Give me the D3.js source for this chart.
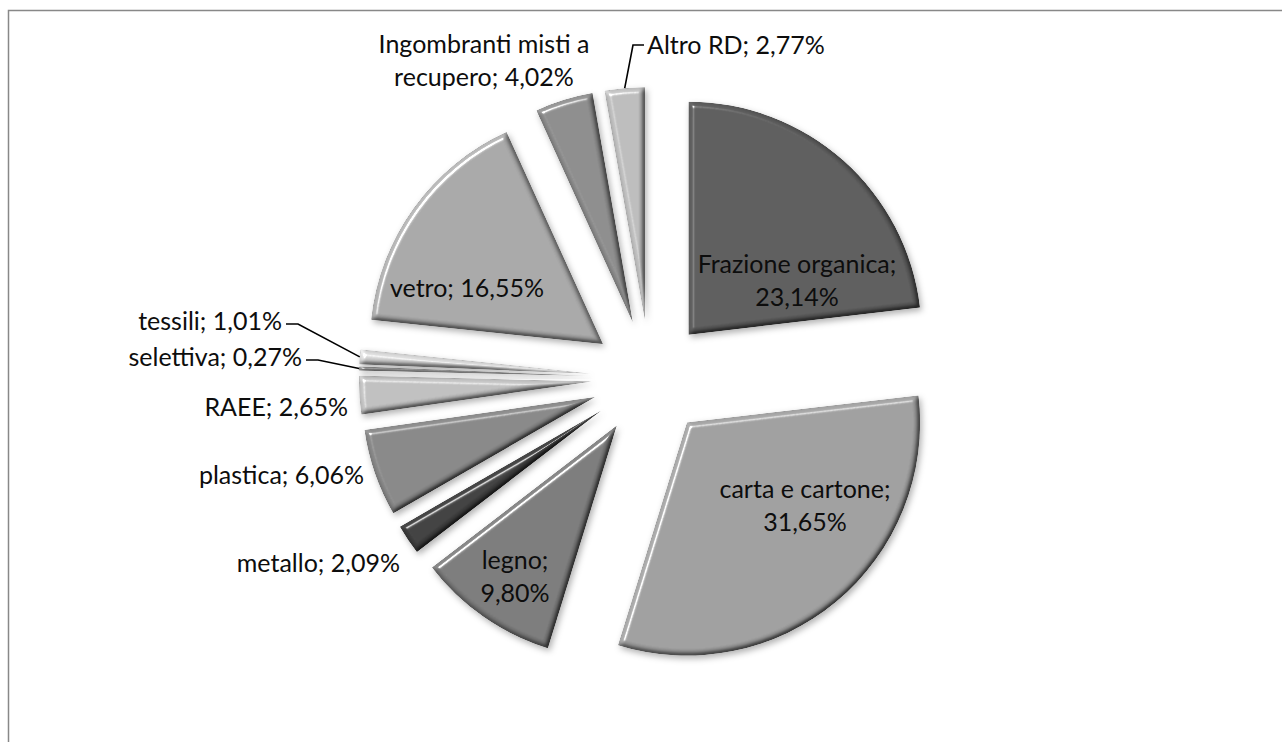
<!DOCTYPE html>
<html>
<head>
<meta charset="utf-8">
<script src="https://cdn.jsdelivr.net/npm/d3@7"></script>
<style>
  html, body { margin: 0; padding: 0; background: #fff; }
  svg { display: block; }
  text { font-family: Lato, "Open Sans", sans-serif; fill: #0d0d0d; }
</style>
</head>
<body>
<svg id="chart" width="1282" height="742"></svg>
<script>
// ---- data ----
const categories = ["Frazione organica", "carta e cartone", "legno", "metallo", "plastica",
  "RAEE", "selettiva", "tessili", "vetro", "Ingombranti misti a recupero", "Altro RD"];
const values = [23.14, 31.65, 9.80, 2.09, 6.06, 2.65, 0.27, 1.01, 16.55, 4.02, 2.77];
const colors = ["#595959", "#9a9a9a", "#777777", "#3d3d3d", "#838383",
  "#bababa", "#8c8c8c", "#d0d0d0", "#a3a3a3", "#888888", "#b7b7b7"];
// words on the first line of each label (0 = single line)
const firstLineWords = [2, 3, 1, 0, 0, 0, 0, 0, 0, 3, 0];
// label placement relative to the pie centre: [dx, dy, anchor, leader]
const labelLayout = [
  [147, -97, "middle", false],
  [155, 128, "middle", false],
  [-135, 199, "middle", false],
  [-250, 185, "end", false],
  [-286, 97, "end", false],
  [-302, 29, "end", false],
  [-348, -21, "end", true],
  [-368, -57, "end", true],
  [-183, -90, "middle", false],
  [-166, -317, "middle", false],
  [-3, -333, "start", true]
];

// ---- layout ----
const svg = d3.select("#chart");
const cx = 650, cy = 378, R = 233, explode = 58, fontSize = 25, lineH = 33;

svg.append("rect").attr("x", 8.5).attr("y", 10.5).attr("width", 1400).attr("height", 900)
  .attr("fill", "none").attr("stroke", "#888").attr("stroke-width", 1.5);

const defs = svg.append("defs");
const f = defs.append("filter").attr("id", "bevel")
  .attr("color-interpolation-filters", "sRGB")
  .attr("x", "-20%").attr("y", "-20%").attr("width", "140%").attr("height", "140%");
f.append("feGaussianBlur").attr("in", "SourceAlpha").attr("stdDeviation", 2.5).attr("result", "blur");
f.append("feDiffuseLighting").attr("in", "blur").attr("surfaceScale", 3)
  .attr("diffuseConstant", 1).attr("lighting-color", "#fff").attr("result", "diff")
  .append("feDistantLight").attr("azimuth", 225).attr("elevation", 60);
f.append("feComposite").attr("in", "SourceGraphic").attr("in2", "diff")
  .attr("operator", "arithmetic").attr("k1", 1.155).attr("k2", 0).attr("k3", 0).attr("k4", 0)
  .attr("result", "shaded");
f.append("feSpecularLighting").attr("in", "blur").attr("surfaceScale", 4)
  .attr("specularConstant", 1.2).attr("specularExponent", 70).attr("lighting-color", "#fff")
  .attr("result", "spec")
  .append("feDistantLight").attr("azimuth", 225).attr("elevation", 55);
f.append("feComposite").attr("in", "spec").attr("in2", "SourceAlpha").attr("operator", "in").attr("result", "spec2");
f.append("feComposite").attr("in", "shaded").attr("in2", "spec2")
  .attr("operator", "arithmetic").attr("k2", 1).attr("k3", 0.6).attr("result", "lit");
f.append("feComposite").attr("in", "lit").attr("in2", "SourceAlpha").attr("operator", "in").attr("result", "litc");
f.append("feGaussianBlur").attr("in", "SourceAlpha").attr("stdDeviation", 3).attr("result", "sb");
f.append("feOffset").attr("in", "sb").attr("dx", 2).attr("dy", 3).attr("result", "so");
f.append("feFlood").attr("flood-color", "#000").attr("flood-opacity", 0.3).attr("result", "fc");
f.append("feComposite").attr("in", "fc").attr("in2", "so").attr("operator", "in").attr("result", "shadow");
const m = f.append("feMerge");
m.append("feMergeNode").attr("in", "shadow");
m.append("feMergeNode").attr("in", "litc");

const pie = d3.pie().sort(null).value(d => d.value).startAngle(0).endAngle(2 * Math.PI);
const arc = d3.arc().innerRadius(0).outerRadius(R);
const data = categories.map((c, i) => ({ name: c, value: values[i], color: colors[i], i }));
const arcs = pie(data);

const g = svg.append("g").attr("transform", `translate(${cx},${cy})`);
const dir = a => [Math.sin(a), -Math.cos(a)];

arcs.forEach(a => {
  const mid = (a.startAngle + a.endAngle) / 2;
  const [ux, uy] = dir(mid);
  a.ox = ux * explode; a.oy = uy * explode;
  a.outer = [a.ox + ux * R, a.oy + uy * R];
});

g.selectAll("path.slice").data(arcs).join("path")
  .attr("class", "slice")
  .attr("transform", d => `translate(${d.ox},${d.oy})`)
  .attr("d", arc)
  .attr("fill", d => d.data.color)
  .attr("filter", "url(#bevel)");

const fmt = v => v.toFixed(2).replace(".", ",") + "%";

arcs.forEach((a, i) => {
  const [dx, dy, anchor, leader] = labelLayout[i];
  const words = (a.data.name + "; " + fmt(a.data.value)).split(" ");
  const n = firstLineWords[i];
  const lines = n > 0 ? [words.slice(0, n).join(" "), words.slice(n).join(" ")] : [words.join(" ")];
  const t = g.append("text").attr("text-anchor", anchor).style("font-size", fontSize + "px");
  lines.forEach((ln, k) => {
    t.append("tspan").attr("x", dx)
      .attr("y", dy + (k - (lines.length - 1) / 2) * lineH)
      .attr("dy", "0.35em").text(ln);
  });
  if (leader) {
    let sx, hx;
    if (anchor === "end") { sx = dx + 4; hx = sx + 12; }
    else { sx = dx - 3; hx = sx - 11; }
    const sy = dy + (anchor === "end" ? 3 : 0);
    g.append("path")
      .attr("d", `M${sx},${sy}L${hx},${sy}L${a.outer[0]},${a.outer[1]}`)
      .attr("fill", "none").attr("stroke", "#000").attr("stroke-width", 1.6);
  }
});
</script>
</body>
</html>
